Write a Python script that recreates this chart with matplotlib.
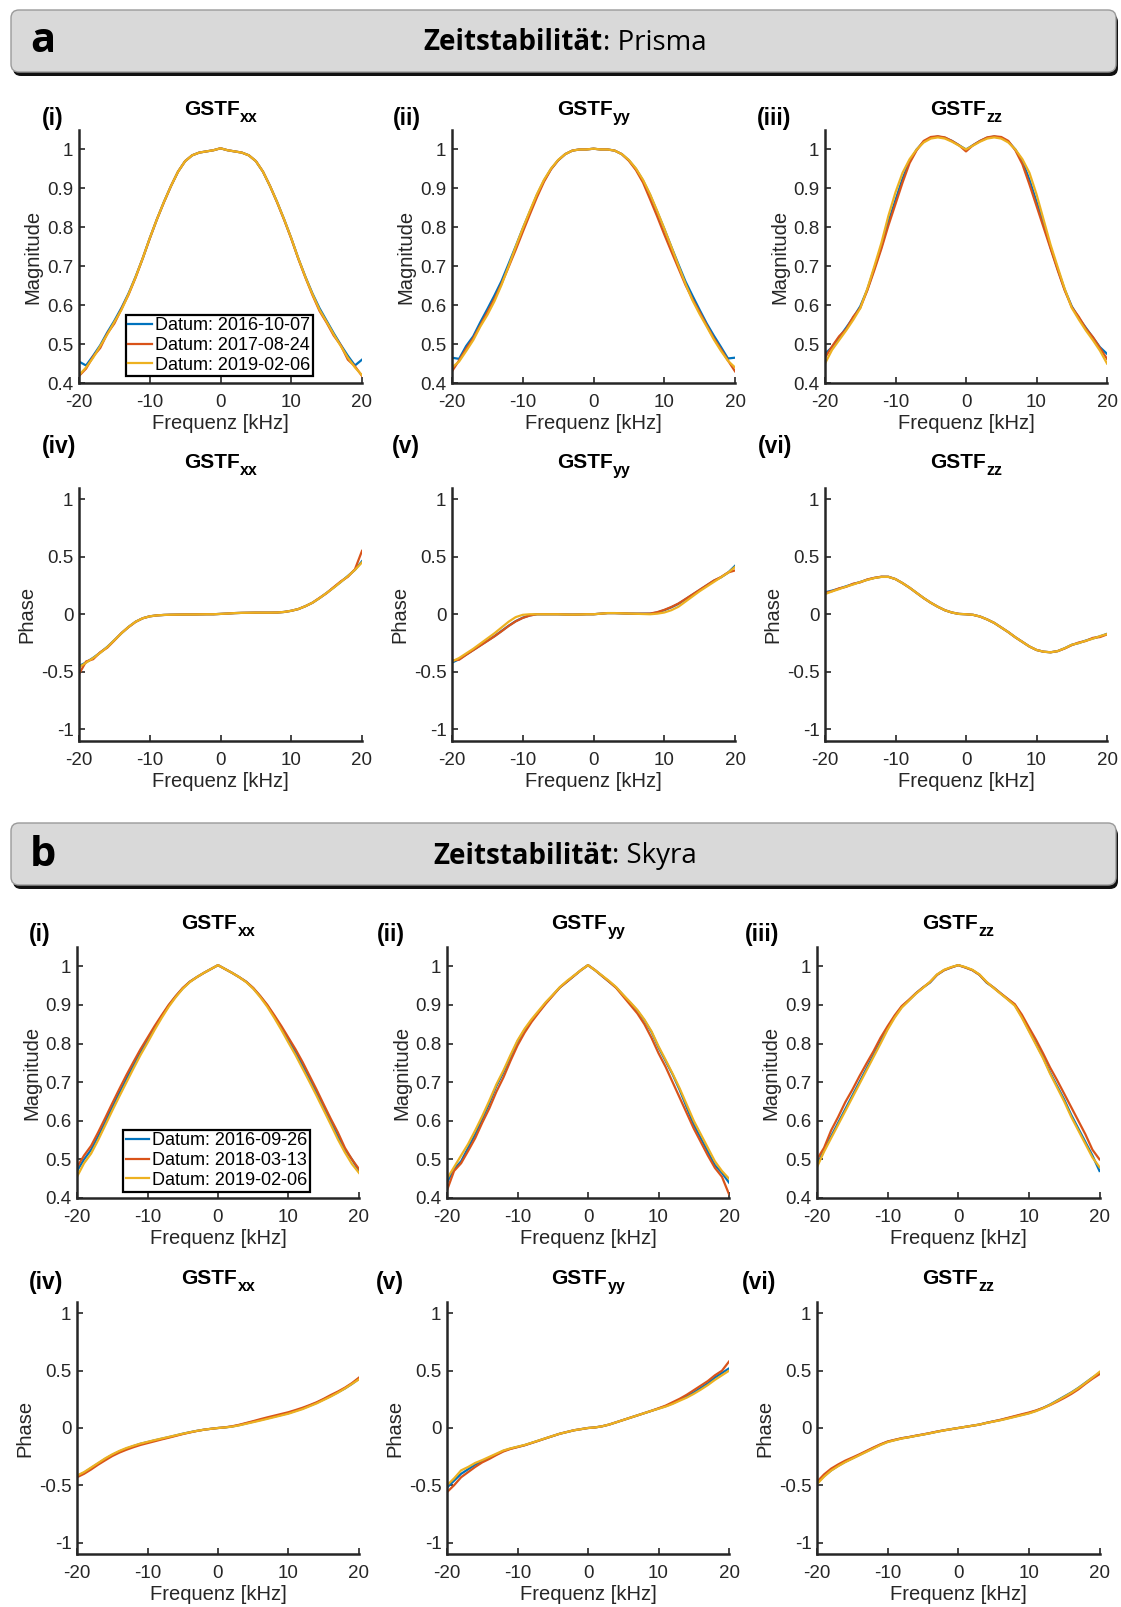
import matplotlib
matplotlib.use("Agg")
import matplotlib.pyplot as plt
from matplotlib.patches import FancyBboxPatch
from matplotlib.offsetbox import TextArea, HPacker, AnnotationBbox

# ---------------- data ----------------
freq_khz = list(range(-20, 21))
series_colors = ['#0072BD', '#D95319', '#EDB120']
legend_a = ['Datum: 2016-10-07', 'Datum: 2017-08-24', 'Datum: 2019-02-06']
legend_b = ['Datum: 2016-09-26', 'Datum: 2018-03-13', 'Datum: 2019-02-06']
section_letters = ['a', 'b']
section_bold = ['Zeitstabilität', 'Zeitstabilität']
section_rest = [': Prisma', ': Skyra']
gradient_axes = ['xx', 'yy', 'zz']
mag_panel_labels = ['(i)', '(ii)', '(iii)']
phase_panel_labels = ['(iv)', '(v)', '(vi)']
freq_ticks = [-20, -10, 0, 10, 20]
mag_ticks = [0.4, 0.5, 0.6, 0.7, 0.8, 0.9, 1.0]
mag_ticklabels = ['0.4', '0.5', '0.6', '0.7', '0.8', '0.9', '1']
phase_ticks = [-1, -0.5, 0, 0.5, 1]
phase_ticklabels = ['-1', '-0.5', '0', '0.5', '1']

# --- a: Prisma, magnitude ---
a_mag_xx_blue = [0.455, 0.445, 0.470, 0.497, 0.530, 0.560, 0.593, 0.630, 0.673, 0.720, 0.772, 0.820, 0.865, 0.906, 0.943, 0.970, 0.985, 0.992, 0.995, 0.998, 1.003,
                 0.998, 0.995, 0.992, 0.985, 0.970, 0.943, 0.906, 0.865, 0.820, 0.772, 0.720, 0.673, 0.630, 0.592, 0.560, 0.528, 0.498, 0.470, 0.445, 0.460]
a_mag_xx_red = [0.418, 0.437, 0.468, 0.490, 0.527, 0.553, 0.590, 0.627, 0.671, 0.720, 0.771, 0.820, 0.864, 0.906, 0.943, 0.970, 0.985, 0.992, 0.995, 0.998, 1.003,
                0.998, 0.995, 0.992, 0.985, 0.970, 0.943, 0.906, 0.864, 0.819, 0.771, 0.719, 0.671, 0.626, 0.585, 0.555, 0.522, 0.497, 0.460, 0.443, 0.418]
a_mag_xx_yellow = [0.420, 0.440, 0.465, 0.495, 0.525, 0.557, 0.588, 0.628, 0.672, 0.720, 0.772, 0.820, 0.865, 0.906, 0.943, 0.970, 0.985, 0.992, 0.995, 0.998, 1.003,
                   0.998, 0.995, 0.992, 0.985, 0.970, 0.943, 0.906, 0.865, 0.820, 0.772, 0.720, 0.672, 0.628, 0.588, 0.557, 0.525, 0.495, 0.465, 0.440, 0.420]

a_mag_yy_blue = [0.465, 0.462, 0.495, 0.520, 0.556, 0.590, 0.625, 0.662, 0.706, 0.751, 0.797, 0.840, 0.883, 0.920, 0.950, 0.972, 0.988, 0.997, 1.000, 1.000, 1.002,
                 1.000, 1.000, 0.997, 0.988, 0.972, 0.950, 0.920, 0.883, 0.840, 0.796, 0.750, 0.705, 0.661, 0.624, 0.588, 0.553, 0.522, 0.493, 0.463, 0.465]
a_mag_yy_red = [0.430, 0.458, 0.488, 0.515, 0.548, 0.582, 0.616, 0.655, 0.698, 0.742, 0.788, 0.833, 0.877, 0.917, 0.949, 0.972, 0.988, 0.997, 1.000, 1.000, 1.002,
                1.000, 1.000, 0.997, 0.988, 0.971, 0.947, 0.915, 0.872, 0.828, 0.782, 0.738, 0.695, 0.652, 0.615, 0.582, 0.548, 0.515, 0.487, 0.458, 0.430]
a_mag_yy_yellow = [0.440, 0.455, 0.482, 0.510, 0.545, 0.575, 0.610, 0.652, 0.700, 0.750, 0.797, 0.842, 0.885, 0.922, 0.951, 0.973, 0.988, 0.997, 1.000, 1.000, 1.002,
                   1.000, 1.000, 0.997, 0.988, 0.973, 0.951, 0.922, 0.885, 0.842, 0.797, 0.750, 0.702, 0.655, 0.612, 0.577, 0.545, 0.512, 0.483, 0.457, 0.440]

a_mag_zz_blue = [0.475, 0.492, 0.517, 0.542, 0.568, 0.597, 0.640, 0.695, 0.750, 0.815, 0.870, 0.925, 0.970, 1.000, 1.020, 1.030, 1.033, 1.030, 1.022, 1.011, 1.000,
                 1.011, 1.022, 1.030, 1.033, 1.030, 1.020, 1.000, 0.970, 0.922, 0.866, 0.810, 0.748, 0.693, 0.640, 0.597, 0.567, 0.542, 0.517, 0.492, 0.475]
a_mag_zz_red = [0.465, 0.494, 0.520, 0.538, 0.570, 0.593, 0.638, 0.690, 0.745, 0.805, 0.860, 0.915, 0.965, 0.998, 1.022, 1.032, 1.034, 1.031, 1.022, 1.011, 0.995,
                1.011, 1.022, 1.031, 1.034, 1.032, 1.022, 0.998, 0.962, 0.910, 0.855, 0.800, 0.745, 0.690, 0.638, 0.595, 0.570, 0.540, 0.518, 0.490, 0.462]
a_mag_zz_yellow = [0.450, 0.485, 0.510, 0.535, 0.562, 0.592, 0.642, 0.700, 0.760, 0.830, 0.890, 0.940, 0.975, 1.000, 1.018, 1.028, 1.031, 1.028, 1.020, 1.010, 1.000,
                   1.010, 1.020, 1.028, 1.031, 1.028, 1.018, 1.000, 0.975, 0.940, 0.885, 0.820, 0.755, 0.698, 0.642, 0.593, 0.563, 0.535, 0.510, 0.483, 0.450]

# --- a: Prisma, phase ---
a_ph_xx_blue = [-0.450, -0.418, -0.378, -0.333, -0.283, -0.225, -0.165, -0.110, -0.065, -0.035, -0.018, -0.010, -0.006, -0.004, -0.003, -0.002, -0.002, -0.001, 0.000, 0.000, 0.003,
                0.006, 0.010, 0.012, 0.013, 0.014, 0.014, 0.014, 0.015, 0.020, 0.030, 0.045, 0.070, 0.100, 0.140, 0.185, 0.232, 0.280, 0.332, 0.385, 0.460]
a_ph_xx_red = [-0.520, -0.410, -0.390, -0.330, -0.290, -0.228, -0.163, -0.112, -0.066, -0.035, -0.018, -0.010, -0.006, -0.004, -0.003, -0.002, -0.002, -0.001, 0.000, 0.000, 0.003,
               0.006, 0.010, 0.012, 0.013, 0.014, 0.014, 0.014, 0.015, 0.020, 0.030, 0.045, 0.070, 0.100, 0.142, 0.183, 0.235, 0.285, 0.325, 0.390, 0.550]
a_ph_xx_yellow = [-0.460, -0.420, -0.380, -0.335, -0.285, -0.225, -0.165, -0.110, -0.065, -0.035, -0.018, -0.010, -0.006, -0.004, -0.003, -0.002, -0.002, -0.001, 0.000, 0.000, 0.003,
                  0.006, 0.010, 0.012, 0.013, 0.014, 0.014, 0.014, 0.015, 0.020, 0.030, 0.045, 0.070, 0.100, 0.140, 0.185, 0.230, 0.280, 0.330, 0.385, 0.450]

a_ph_yy_blue = [-0.420, -0.390, -0.350, -0.310, -0.270, -0.230, -0.190, -0.145, -0.100, -0.060, -0.030, -0.010, 0.000, 0.000, 0.000, 0.000, -0.002, -0.003, -0.002, 0.000, 0.000,
                0.005, 0.010, 0.010, 0.008, 0.006, 0.005, 0.005, 0.005, 0.015, 0.035, 0.060, 0.090, 0.130, 0.170, 0.210, 0.250, 0.290, 0.320, 0.360, 0.420]
a_ph_yy_red = [-0.400, -0.395, -0.352, -0.312, -0.272, -0.232, -0.192, -0.148, -0.102, -0.062, -0.032, -0.011, 0.000, 0.000, 0.000, 0.000, -0.002, -0.003, -0.002, 0.000, 0.000,
               0.005, 0.010, 0.010, 0.008, 0.006, 0.005, 0.005, 0.006, 0.018, 0.038, 0.063, 0.093, 0.132, 0.172, 0.212, 0.252, 0.292, 0.322, 0.362, 0.380]
a_ph_yy_yellow = [-0.410, -0.380, -0.340, -0.300, -0.255, -0.210, -0.165, -0.115, -0.065, -0.025, -0.005, 0.000, 0.000, 0.000, 0.000, 0.000, -0.002, -0.003, -0.002, 0.000, 0.000,
                  0.005, 0.010, 0.010, 0.008, 0.006, 0.004, 0.002, 0.000, 0.005, 0.015, 0.035, 0.065, 0.110, 0.155, 0.200, 0.240, 0.280, 0.320, 0.360, 0.410]

a_ph_zz_blue = [0.190, 0.205, 0.222, 0.243, 0.262, 0.280, 0.300, 0.315, 0.325, 0.325, 0.305, 0.270, 0.230, 0.185, 0.140, 0.100, 0.065, 0.035, 0.015, 0.003, 0.000,
                -0.005, -0.020, -0.045, -0.075, -0.115, -0.155, -0.200, -0.240, -0.280, -0.310, -0.325, -0.330, -0.320, -0.295, -0.265, -0.250, -0.228, -0.210, -0.192, -0.170]
a_ph_zz_red = [0.185, 0.200, 0.225, 0.238, 0.265, 0.277, 0.302, 0.316, 0.326, 0.325, 0.305, 0.270, 0.230, 0.185, 0.140, 0.100, 0.065, 0.035, 0.015, 0.003, 0.000,
               -0.005, -0.020, -0.045, -0.075, -0.115, -0.155, -0.200, -0.240, -0.280, -0.310, -0.325, -0.330, -0.320, -0.297, -0.268, -0.245, -0.232, -0.205, -0.198, -0.175]
a_ph_zz_yellow = [0.175, 0.198, 0.218, 0.240, 0.258, 0.280, 0.298, 0.314, 0.324, 0.324, 0.305, 0.270, 0.230, 0.185, 0.140, 0.100, 0.065, 0.035, 0.015, 0.003, 0.000,
                  -0.005, -0.020, -0.045, -0.075, -0.115, -0.155, -0.200, -0.240, -0.280, -0.310, -0.325, -0.330, -0.320, -0.295, -0.265, -0.250, -0.230, -0.212, -0.190, -0.172]

# --- b: Skyra, magnitude ---
b_mag_xx_blue = [0.470, 0.500, 0.525, 0.560, 0.597, 0.635, 0.672, 0.708, 0.743, 0.777, 0.808, 0.840, 0.870, 0.898, 0.922, 0.943, 0.960, 0.972, 0.983, 0.993, 1.003,
                 0.993, 0.983, 0.972, 0.960, 0.943, 0.922, 0.898, 0.870, 0.840, 0.808, 0.777, 0.743, 0.708, 0.672, 0.635, 0.597, 0.560, 0.525, 0.500, 0.470]
b_mag_xx_red = [0.480, 0.510, 0.535, 0.570, 0.607, 0.645, 0.682, 0.718, 0.752, 0.785, 0.815, 0.845, 0.873, 0.900, 0.923, 0.944, 0.960, 0.972, 0.983, 0.993, 1.003,
                0.993, 0.983, 0.972, 0.960, 0.944, 0.923, 0.900, 0.873, 0.845, 0.815, 0.785, 0.752, 0.716, 0.680, 0.642, 0.605, 0.570, 0.530, 0.500, 0.475]
b_mag_xx_yellow = [0.455, 0.490, 0.515, 0.550, 0.588, 0.626, 0.663, 0.699, 0.735, 0.770, 0.802, 0.835, 0.866, 0.895, 0.920, 0.942, 0.959, 0.972, 0.983, 0.993, 1.003,
                   0.993, 0.983, 0.972, 0.959, 0.942, 0.920, 0.895, 0.866, 0.835, 0.802, 0.770, 0.735, 0.700, 0.664, 0.627, 0.590, 0.552, 0.518, 0.488, 0.465]

b_mag_yy_blue = [0.440, 0.475, 0.495, 0.530, 0.565, 0.605, 0.645, 0.690, 0.725, 0.765, 0.805, 0.835, 0.860, 0.882, 0.905, 0.925, 0.945, 0.960, 0.975, 0.990, 1.003,
                 0.990, 0.975, 0.960, 0.945, 0.925, 0.905, 0.885, 0.860, 0.830, 0.790, 0.755, 0.720, 0.680, 0.635, 0.590, 0.555, 0.520, 0.485, 0.465, 0.440]
b_mag_yy_red = [0.420, 0.470, 0.490, 0.522, 0.555, 0.595, 0.632, 0.675, 0.712, 0.755, 0.795, 0.828, 0.856, 0.880, 0.903, 0.924, 0.945, 0.960, 0.975, 0.990, 1.003,
                0.990, 0.975, 0.960, 0.944, 0.922, 0.900, 0.878, 0.850, 0.815, 0.775, 0.740, 0.700, 0.660, 0.620, 0.580, 0.545, 0.510, 0.478, 0.455, 0.410]
b_mag_yy_yellow = [0.450, 0.480, 0.510, 0.540, 0.575, 0.612, 0.652, 0.694, 0.730, 0.770, 0.808, 0.838, 0.863, 0.885, 0.907, 0.926, 0.946, 0.962, 0.976, 0.990, 1.003,
                   0.990, 0.976, 0.962, 0.946, 0.926, 0.907, 0.887, 0.862, 0.832, 0.793, 0.758, 0.722, 0.684, 0.642, 0.600, 0.565, 0.530, 0.495, 0.470, 0.450]

b_mag_zz_blue = [0.485, 0.525, 0.560, 0.595, 0.630, 0.665, 0.700, 0.735, 0.770, 0.805, 0.840, 0.870, 0.895, 0.912, 0.930, 0.945, 0.958, 0.978, 0.990, 0.997, 1.003,
                 0.997, 0.990, 0.978, 0.958, 0.945, 0.930, 0.915, 0.900, 0.870, 0.835, 0.800, 0.765, 0.725, 0.690, 0.655, 0.615, 0.580, 0.545, 0.510, 0.470]
b_mag_zz_red = [0.500, 0.530, 0.575, 0.610, 0.648, 0.680, 0.715, 0.748, 0.780, 0.815, 0.845, 0.873, 0.897, 0.913, 0.930, 0.945, 0.959, 0.978, 0.990, 0.997, 1.003,
                0.997, 0.990, 0.978, 0.959, 0.945, 0.930, 0.916, 0.902, 0.875, 0.842, 0.810, 0.775, 0.738, 0.705, 0.670, 0.635, 0.600, 0.565, 0.525, 0.500]
b_mag_zz_yellow = [0.480, 0.520, 0.555, 0.590, 0.625, 0.660, 0.695, 0.730, 0.765, 0.800, 0.836, 0.867, 0.893, 0.911, 0.929, 0.944, 0.960, 0.979, 0.991, 0.998, 1.003,
                   0.998, 0.991, 0.979, 0.960, 0.944, 0.929, 0.914, 0.898, 0.867, 0.832, 0.797, 0.762, 0.722, 0.686, 0.650, 0.610, 0.575, 0.540, 0.505, 0.480]

# --- b: Skyra, phase ---
b_ph_xx_blue = [-0.420, -0.390, -0.350, -0.310, -0.270, -0.235, -0.205, -0.180, -0.158, -0.138, -0.123, -0.108, -0.094, -0.080, -0.065, -0.050, -0.037, -0.025, -0.015, -0.007, 0.000,
                0.005, 0.013, 0.025, 0.040, 0.055, 0.070, 0.085, 0.100, 0.115, 0.130, 0.150, 0.170, 0.195, 0.220, 0.250, 0.280, 0.312, 0.345, 0.385, 0.430]
b_ph_xx_red = [-0.430, -0.400, -0.362, -0.320, -0.282, -0.245, -0.215, -0.190, -0.168, -0.148, -0.132, -0.116, -0.100, -0.085, -0.069, -0.053, -0.039, -0.026, -0.015, -0.007, 0.000,
               0.006, 0.015, 0.028, 0.044, 0.060, 0.077, 0.093, 0.108, 0.123, 0.138, 0.157, 0.177, 0.200, 0.225, 0.255, 0.288, 0.318, 0.352, 0.392, 0.440]
b_ph_xx_yellow = [-0.415, -0.385, -0.345, -0.305, -0.265, -0.230, -0.200, -0.175, -0.155, -0.136, -0.121, -0.106, -0.092, -0.078, -0.064, -0.050, -0.037, -0.025, -0.015, -0.007, 0.000,
                  0.005, 0.012, 0.023, 0.037, 0.051, 0.065, 0.080, 0.095, 0.110, 0.125, 0.145, 0.165, 0.190, 0.215, 0.245, 0.275, 0.308, 0.345, 0.385, 0.425]

b_ph_yy_blue = [-0.520, -0.460, -0.400, -0.360, -0.320, -0.290, -0.260, -0.230, -0.200, -0.180, -0.165, -0.150, -0.130, -0.110, -0.090, -0.070, -0.050, -0.035, -0.020, -0.010, 0.000,
                0.005, 0.015, 0.030, 0.050, 0.070, 0.090, 0.110, 0.130, 0.150, 0.170, 0.190, 0.215, 0.245, 0.275, 0.310, 0.350, 0.390, 0.440, 0.480, 0.520]
b_ph_yy_red = [-0.560, -0.500, -0.430, -0.385, -0.340, -0.300, -0.270, -0.236, -0.205, -0.183, -0.167, -0.151, -0.131, -0.111, -0.090, -0.070, -0.050, -0.035, -0.020, -0.010, 0.000,
               0.005, 0.015, 0.030, 0.050, 0.070, 0.090, 0.110, 0.130, 0.150, 0.172, 0.195, 0.225, 0.255, 0.290, 0.330, 0.370, 0.410, 0.460, 0.500, 0.580]
b_ph_yy_yellow = [-0.500, -0.440, -0.370, -0.340, -0.305, -0.280, -0.252, -0.224, -0.196, -0.178, -0.163, -0.148, -0.129, -0.109, -0.089, -0.069, -0.050, -0.035, -0.020, -0.010, 0.000,
                  0.005, 0.015, 0.030, 0.050, 0.070, 0.090, 0.110, 0.130, 0.150, 0.168, 0.187, 0.210, 0.238, 0.265, 0.298, 0.335, 0.375, 0.420, 0.460, 0.500]

b_ph_zz_blue = [-0.480, -0.420, -0.370, -0.330, -0.295, -0.265, -0.235, -0.205, -0.175, -0.145, -0.120, -0.105, -0.090, -0.080, -0.068, -0.057, -0.045, -0.032, -0.020, -0.010, 0.000,
                0.010, 0.020, 0.030, 0.045, 0.058, 0.070, 0.085, 0.100, 0.115, 0.130, 0.150, 0.175, 0.205, 0.240, 0.275, 0.310, 0.350, 0.395, 0.440, 0.480]
b_ph_zz_red = [-0.470, -0.405, -0.355, -0.318, -0.285, -0.258, -0.230, -0.200, -0.170, -0.142, -0.118, -0.103, -0.089, -0.079, -0.067, -0.056, -0.044, -0.031, -0.020, -0.010, 0.000,
               0.010, 0.020, 0.030, 0.045, 0.058, 0.072, 0.088, 0.104, 0.120, 0.135, 0.153, 0.175, 0.200, 0.230, 0.262, 0.297, 0.337, 0.385, 0.430, 0.470]
b_ph_zz_yellow = [-0.490, -0.425, -0.372, -0.333, -0.298, -0.268, -0.238, -0.208, -0.178, -0.148, -0.123, -0.107, -0.092, -0.081, -0.069, -0.058, -0.046, -0.033, -0.021, -0.010, 0.000,
                  0.010, 0.020, 0.030, 0.044, 0.056, 0.068, 0.082, 0.097, 0.112, 0.127, 0.147, 0.172, 0.202, 0.237, 0.272, 0.308, 0.348, 0.393, 0.440, 0.490]

a_mag = [(a_mag_xx_blue, a_mag_xx_red, a_mag_xx_yellow),
         (a_mag_yy_blue, a_mag_yy_red, a_mag_yy_yellow),
         (a_mag_zz_blue, a_mag_zz_red, a_mag_zz_yellow)]
a_ph = [(a_ph_xx_blue, a_ph_xx_red, a_ph_xx_yellow),
        (a_ph_yy_blue, a_ph_yy_red, a_ph_yy_yellow),
        (a_ph_zz_blue, a_ph_zz_red, a_ph_zz_yellow)]
b_mag = [(b_mag_xx_blue, b_mag_xx_red, b_mag_xx_yellow),
         (b_mag_yy_blue, b_mag_yy_red, b_mag_yy_yellow),
         (b_mag_zz_blue, b_mag_zz_red, b_mag_zz_yellow)]
b_ph = [(b_ph_xx_blue, b_ph_xx_red, b_ph_xx_yellow),
        (b_ph_yy_blue, b_ph_yy_red, b_ph_yy_yellow),
        (b_ph_zz_blue, b_ph_zz_red, b_ph_zz_yellow)]

# ---------------- style ----------------
plt.rcParams['font.family'] = ['Liberation Sans', 'DejaVu Sans']
AX_COLOR = '#262626'

W, H = 1121, 1607
fig = plt.figure(figsize=(W / 100, H / 100), dpi=100)
bg = fig.add_axes([0, 0, 1, 1])
bg.set_xlim(0, W)
bg.set_ylim(H, 0)
bg.axis('off')


def header(y0, y1, letter, bold, rest):
    x0, x1 = 11, 1116
    shadow = FancyBboxPatch((x0 + 2, y0 + 4), x1 - x0, y1 - y0,
                            boxstyle="round,pad=0,rounding_size=8",
                            fc='#111111', ec='none', zorder=1)
    box = FancyBboxPatch((x0, y0), x1 - x0, y1 - y0,
                         boxstyle="round,pad=0,rounding_size=8",
                         fc='#d9d9d9', ec='#9a9a9a', lw=1.0, zorder=2)
    bg.add_patch(shadow)
    bg.add_patch(box)
    yc = (y0 + y1) / 2
    bg.text(30, yc + 1, letter, fontsize=30, fontweight='bold', family='Open Sans',
            ha='left', va='center', zorder=3)
    t1 = TextArea(bold, textprops=dict(fontsize=20, fontweight='bold', family='Open Sans', color='black'))
    t2 = TextArea(rest, textprops=dict(fontsize=20, family='Open Sans', color='black'))
    pack = HPacker(children=[t1, t2], pad=0, sep=0, align='baseline')
    ab = AnnotationBbox(pack, (565, yc + 2), xycoords='data', frameon=False,
                        box_alignment=(0.5, 0.5), zorder=3)
    bg.add_artist(ab)


header(10, 72, section_letters[0], section_bold[0], section_rest[0])
header(823, 885, section_letters[1], section_bold[1], section_rest[1])


def add_ax(x0, x1, y0, y1):
    return fig.add_axes([x0 / W, 1 - y1 / H, (x1 - x0) / W, (y1 - y0) / H])


rows = [
    dict(kind='mag', y=(130, 383), cols=[(79, 362), (452, 735), (825, 1107)], data=a_mag,
         labels=mag_panel_labels, lab_x=[42, 393, 757], lab_y=119, title_y=115, legend=legend_a),
    dict(kind='ph', y=(487.5, 741), cols=[(79, 362), (452, 735), (825, 1107)], data=a_ph,
         labels=phase_panel_labels, lab_x=[42, 392, 758], lab_y=446, title_y=468, legend=None),
    dict(kind='mag', y=(947, 1198), cols=[(77, 359), (447, 729), (817, 1099.5)], data=b_mag,
         labels=mag_panel_labels, lab_x=[29, 377, 745], lab_y=935, title_y=929, legend=legend_b),
    dict(kind='ph', y=(1302, 1554), cols=[(77, 359), (447, 729), (817, 1099.5)], data=b_ph,
         labels=phase_panel_labels, lab_x=[29, 376, 742], lab_y=1282, title_y=1284, legend=None),
]

title_texts = []
for row in rows:
    y0, y1 = row['y']
    for j, (x0, x1) in enumerate(row['cols']):
        ax = add_ax(x0, x1, y0, y1)
        lines = []
        for k, vals in enumerate(row['data'][j]):
            ln, = ax.plot(freq_khz, vals, color=series_colors[k], lw=1.6, solid_joinstyle='round')
            lines.append(ln)
        ax.set_xlim(-20, 20)
        ax.set_xticks(freq_ticks)
        ax.set_xticklabels([str(t) for t in freq_ticks])
        if row['kind'] == 'mag':
            ax.set_ylim(0.4, 1.05)
            ax.set_yticks(mag_ticks)
            ax.set_yticklabels(mag_ticklabels)
            ax.set_ylabel('Magnitude', fontsize=14.5, color=AX_COLOR)
            ax.yaxis.set_label_coords(-0.128, 0.5)
        else:
            ax.set_ylim(-1.1, 1.1)
            ax.set_yticks(phase_ticks)
            ax.set_yticklabels(phase_ticklabels)
            ax.set_ylabel('Phase', fontsize=14.5, color=AX_COLOR)
            ax.yaxis.set_label_coords(-0.152, 0.5)
        ax.set_xlabel('Frequenz [kHz]', fontsize=14.5, color=AX_COLOR)
        ax.xaxis.set_label_coords(0.5, -0.122)
        for s in ['top', 'right']:
            ax.spines[s].set_visible(False)
        for s in ['left', 'bottom']:
            ax.spines[s].set_linewidth(1.8)
            ax.spines[s].set_color(AX_COLOR)
        ax.tick_params(direction='in', length=4, width=1.2, colors=AX_COLOR, labelsize=13.5)
        ax.tick_params(axis='x', pad=8)
        ax.tick_params(axis='y', pad=4)
        ax.patch.set_alpha(0)
        # titles and panel labels
        xc = (x0 + x1) / 2
        t_main = bg.text(xc, row['title_y'], 'GSTF', fontsize=15, fontweight='bold',
                         ha='left', va='baseline', color='black')
        t_sub = bg.text(xc, row['title_y'] + 7, gradient_axes[j], fontsize=11.5, fontweight='bold',
                        ha='left', va='baseline', color='black')
        title_texts.append((xc, t_main, t_sub))
        bg.text(row['lab_x'][j], row['lab_y'], row['labels'][j], fontsize=16.5,
                fontweight='bold', ha='left', va='center', color='black')
        if j == 0 and row['legend'] is not None:
            leg = ax.legend(lines, row['legend'], loc='lower right',
                            bbox_to_anchor=(0.835, 0.015), fontsize=13,
                            handlelength=1.3, handletextpad=0.15, labelspacing=0.15,
                            borderpad=0.15, borderaxespad=0.15, fancybox=False, framealpha=1)
            leg.get_frame().set_edgecolor('black')
            leg.get_frame().set_linewidth(1.6)

# center "GSTF" + subscript as a unit over each axes
fig.canvas.draw()
renderer = fig.canvas.get_renderer()
inv = bg.transData.inverted()
for xc, t_main, t_sub in title_texts:
    bb1 = t_main.get_window_extent(renderer)
    bb2 = t_sub.get_window_extent(renderer)
    w1 = bb1.width
    w2 = bb2.width
    total = w1 + w2
    start = xc - total / 2
    t_main.set_x(start)
    t_sub.set_x(start + w1 + 0.5)

fig.savefig('out.png', dpi=100)
